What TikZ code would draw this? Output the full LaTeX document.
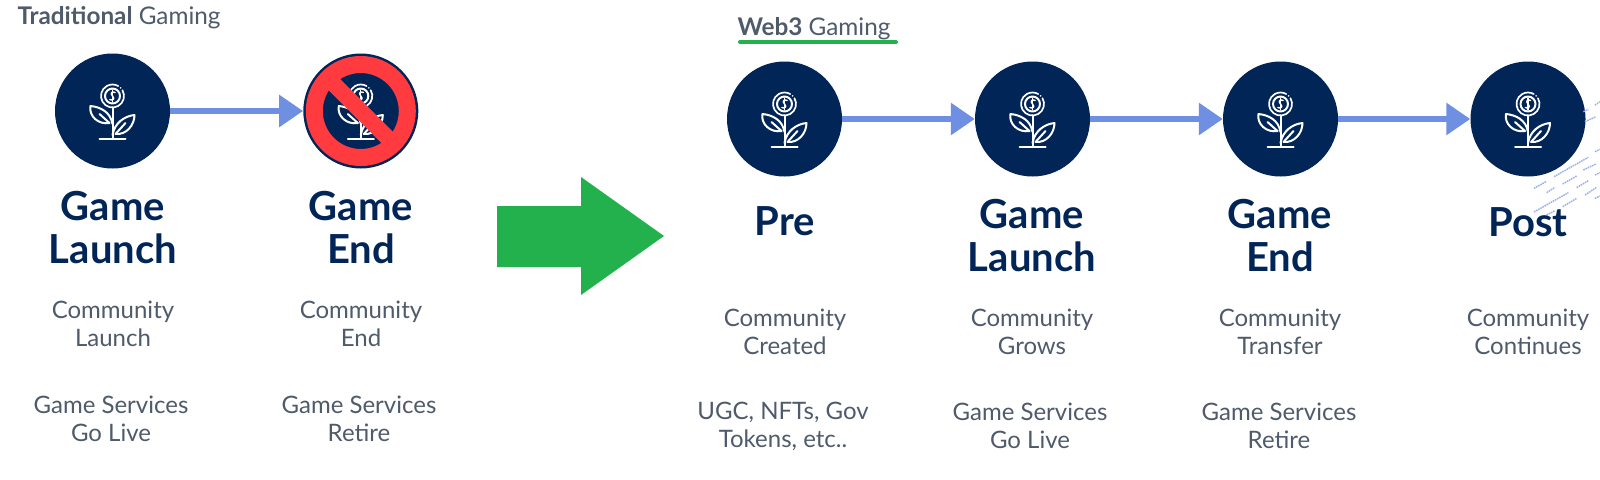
\documentclass[tikz,border=0pt]{standalone}
\usepackage{fontspec}
\setmainfont{Lato}
\usetikzlibrary{arrows.meta}
\definecolor{navy}{HTML}{022558}
\definecolor{flow}{HTML}{6F8FE3}
\definecolor{slate}{HTML}{4F5A6B}
\definecolor{okgreen}{HTML}{22B14C}
\definecolor{nored}{HTML}{FF3B3F}
\tikzset{
  x=1pt,y=-1pt,
  disc/.style={circle,fill=navy,minimum size=115pt,inner sep=0pt},
  flowline/.style={draw=flow,line width=6pt,-{Triangle[length=24pt,width=31pt]}},
  head/.style={font=\fontsize{40}{43}\selectfont\bfseries,text=navy,align=center},
  note/.style={font=\fontsize{24}{28}\selectfont,text=slate,align=center},
  ttl/.style={font=\fontsize{24.3}{28}\selectfont,text=slate,anchor=base west},
  plant/.pic={
    \begin{scope}[draw=white,line width=2pt,line cap=round,line join=round]
      \draw (0,-15) circle[radius=7.5];
      \draw[line width=1.7pt] (9.96,-20.75) arc[start angle=-30,end angle=300,radius=11.5];
      \fill[white] (8.1,-23.1) circle[radius=0.9];
      \draw (0,-3.5) -- (0,28);
      \draw (-13,28) -- (13,28);
      \draw (0,13) .. controls (-2,1) and (-12,-4) .. (-22,-5) .. controls (-24,5) and (-14,14) .. (-3,12);
      \draw (-3,12) -- (-13,3);
      \draw (0,24) .. controls (2,12) and (12,5) .. (22,4) .. controls (22,14) and (14,24) .. (3,23);
      \draw (3,23) -- (13,12);
      \draw[line width=1.1pt] (0,-21) -- (0,-9);
      \draw[line width=1.4pt] (2.6,-18.5) .. controls (0,-20) and (-3,-18) .. (0,-15) .. controls (3,-12) and (0,-10) .. (-2.6,-11.5);
    \end{scope}
  }
}
\begin{document}
\begin{tikzpicture}
\useasboundingbox (0,0) rectangle (1600,479);
% Left group
\node[ttl] (t1) at (14,24) {\textbf{Traditional} Gaming};
\node[disc] (a) at (112.5,111) {};
\node[disc] (b) at (360.8,111) {};
\pic at (a.center) {plant};
\pic at (b.center) {plant};
\draw[flowline] (a) -- (b);
\begin{scope}[shift={(b.center)}]
  \draw[nored,line width=17pt] (0,0) circle[radius=46.5];
  \draw[nored,line width=16pt] (-36,-36) -- (36,36);
\end{scope}
\node[head] (h1) at (113,228) {Game\\Launch};
\node[head] (h2) at (361,228) {Game\\End};
\node[note] (n1) at (113,324) {Community\\Launch};
\node[note] (n2) at (361,324) {Community\\End};
\node[note] (n3) at (111,419) {Game Services\\Go Live};
\node[note] (n4) at (359,419) {Game Services\\Retire};
% Big arrow
\fill[okgreen] (497,206) -- (581,206) -- (581,177) -- (664,236) -- (581,295) -- (581,267) -- (497,267) -- cycle;
% Right group
\node[ttl] (t2) at (734,35) {\textbf{Web3} Gaming};
\coordinate (u1) at (740,42);
\coordinate (u2) at (896,42);
\draw[okgreen,line width=4pt,line cap=round] (u1) -- (u2);
\node[disc] (c) at (784.5,119) {};
\node[disc] (d) at (1032.5,119) {};
\node[disc] (e) at (1280.5,119) {};
\node[disc] (f) at (1528,119) {};
\foreach \n in {c,d,e,f}{\pic at (\n.center) {plant};}
\draw[flowline] (c) -- (d);
\draw[flowline] (d) -- (e);
\draw[flowline] (e) -- (f);
% faint specks beside the last disc
\begin{scope}[shift={(1400,60)},x=0.3333pt,y=-0.3333pt]
  \foreach \xa/\ya/\xb/\yb in {462/350/565/292,488/372/530/348,550/330/588/312,402/385/438/365,440/398/465/382,530/383/565/362,555/405/590/382,402/456/505/398,488/440/530/415,440/465/465/452,555/185/588/170,550/155/565/148,585/135/600/125,585/275/600/268,585/345/600/338,585/415/600/408}
    \draw[flow!70,line width=1.5pt,dash pattern=on 1.6pt off 0.8pt] (\xa,\ya) -- (\xb,\yb);
\end{scope}
\node[head] (h3) at (785,221) {Pre};
\node[head] (h4) at (1032,236) {Game\\Launch};
\node[head] (h5) at (1280,236) {Game\\End};
\node[head] (h6) at (1528,222) {Post};
\node[note] (n5) at (785,332) {Community\\Created};
\node[note] (n6) at (1032,332) {Community\\Grows};
\node[note] (n7) at (1280,332) {Community\\Transfer};
\node[note] (n8) at (1528,332) {Community\\Continues};
\node[note] (n9) at (783,426) {UGC, NFTs, Gov\\Tokens, etc..};
\node[note] (n10) at (1030,426) {Game Services\\Go Live};
\node[note] (n11) at (1279,426) {Game Services\\Retire};
\end{tikzpicture}
\end{document}
